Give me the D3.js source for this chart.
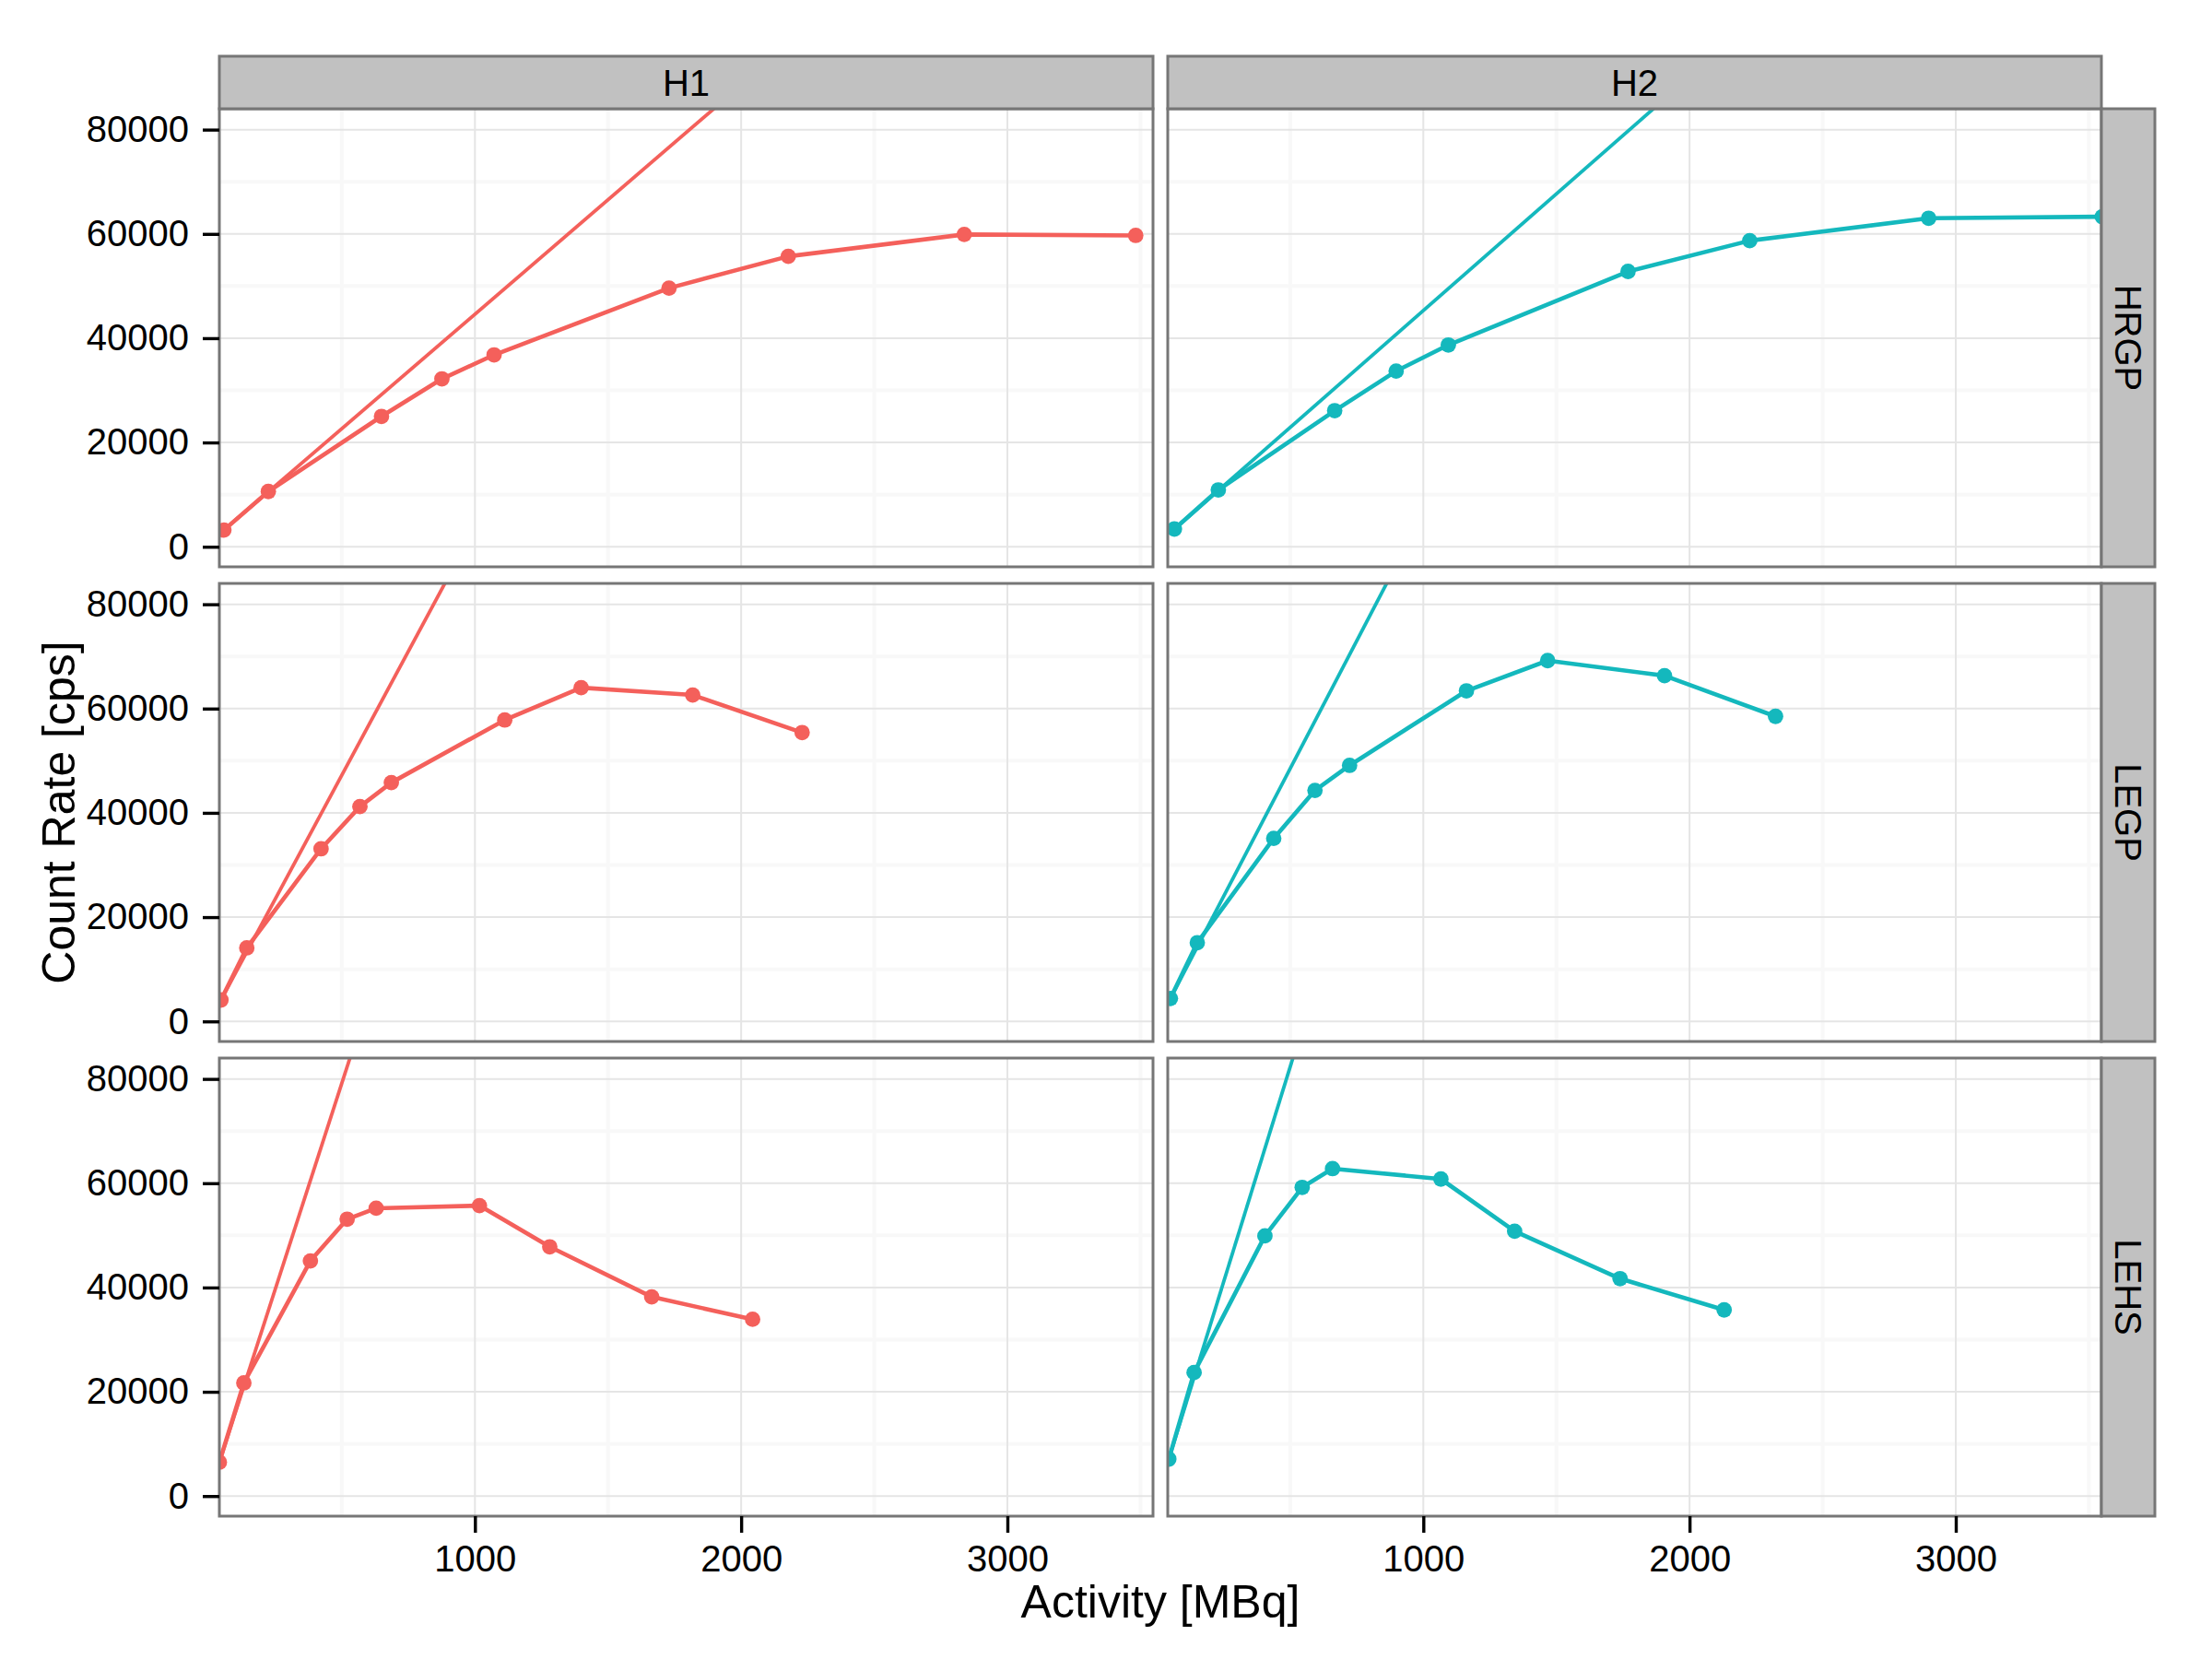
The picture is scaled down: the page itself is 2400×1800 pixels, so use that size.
<!DOCTYPE html>
<html><head><meta charset="utf-8">
<script src="https://cdn.jsdelivr.net/npm/d3@7"></script>
<style>body{margin:0;background:#fff}text{font-family:"Liberation Sans",Arial,Helvetica,sans-serif}</style>
</head><body>
<svg id="chart" width="2400" height="1800"></svg>
<script>
// ---- data ----
const columns = ["H1", "H2"];
const rows = ["HRGP", "LEGP", "LEHS"];
const xTicks = [1000, 2000, 3000];
const xMinorTicks = [500, 1500, 2500, 3500];
const yTicks = [0, 20000, 40000, 60000, 80000];
const yMinorTicks = [10000, 30000, 50000, 70000];
const xTitle = "Activity [MBq]";
const yTitle = "Count Rate [cps]";

const activityH1HRGP = [57, 224, 649, 876, 1072, 1729, 2177, 2838, 3482];
const rateH1HRGP     = [3200, 10600, 25000, 32200, 36800, 49600, 55700, 59900, 59700];
const activityH2HRGP = [65, 230, 667, 898, 1094, 1769, 2226, 2898, 3550];
const rateH2HRGP     = [3400, 10900, 26100, 33700, 38700, 52800, 58700, 63000, 63300];

const activityH1LEGP = [46, 143, 422, 568, 686, 1112, 1399, 1818, 2229];
const rateH1LEGP     = [4100, 14100, 33100, 41200, 45800, 57800, 64000, 62600, 55400];
const activityH2LEGP = [50, 151, 438, 593, 723, 1162, 1467, 1906, 2323];
const rateH2LEGP     = [4400, 15100, 35100, 44300, 49100, 63400, 69200, 66300, 58500];

const activityH1LEHS = [40, 132, 382, 520, 629, 1017, 1281, 1664, 2043];
const rateH1LEHS     = [6500, 21700, 45100, 53100, 55200, 55700, 47800, 38200, 33900];
const activityH2LEHS = [44, 139, 405, 545, 659, 1066, 1343, 1739, 2130];
const rateH2LEHS     = [7100, 23700, 49900, 59200, 62800, 60800, 50800, 41700, 35700];

// slope (cps per MBq) of the linear reference line through the first measurement, rows HRGP, LEGP, LEHS
const refSlopeH1 = [43.9, 95, 158];
const refSlopeH2 = [44.8, 98, 165];

const colors = {H1: "#F4605B", H2: "#14B8BD"};

// ---- layout ----
const W = 2400, H = 1800;
const colX = [238, 1267];
const rowY = [118, 633, 1148];
const panelW = 1013, panelH = 497;
const stripH = 57, stripW = 58;

const svg = d3.select("#chart");
svg.append("rect").attr("width", W).attr("height", H).attr("fill", "#fff");

const x = d3.scaleLinear().domain([40, 3547]).range([0, panelW]);
const y = d3.scaleLinear().domain([-3850, 84000]).range([panelH, 0]);

const panels = [
  {col: 0, row: 0, xs: activityH1HRGP, ys: rateH1HRGP, slope: refSlopeH1[0]},
  {col: 1, row: 0, xs: activityH2HRGP, ys: rateH2HRGP, slope: refSlopeH2[0]},
  {col: 0, row: 1, xs: activityH1LEGP, ys: rateH1LEGP, slope: refSlopeH1[1]},
  {col: 1, row: 1, xs: activityH2LEGP, ys: rateH2LEGP, slope: refSlopeH2[1]},
  {col: 0, row: 2, xs: activityH1LEHS, ys: rateH1LEHS, slope: refSlopeH1[2]},
  {col: 1, row: 2, xs: activityH2LEHS, ys: rateH2LEHS, slope: refSlopeH2[2]},
];

const border = "#767676";
const line = d3.line().x(d => x(d[0])).y(d => y(d[1]));

panels.forEach((p, i) => {
  const g = svg.append("g").attr("transform", `translate(${colX[p.col]},${rowY[p.row]})`);
  const color = colors[columns[p.col]];
  g.append("rect").attr("width", panelW).attr("height", panelH).attr("fill", "#fff");
  // minor grid
  g.selectAll(".mx").data(xMinorTicks).join("line")
    .attr("x1", d => x(d)).attr("x2", d => x(d)).attr("y1", 0).attr("y2", panelH)
    .attr("stroke", "#F8F8F8").attr("stroke-width", 4);
  g.selectAll(".my").data(yMinorTicks).join("line")
    .attr("y1", d => y(d)).attr("y2", d => y(d)).attr("x1", 0).attr("x2", panelW)
    .attr("stroke", "#F8F8F8").attr("stroke-width", 4);
  // major grid
  g.selectAll(".gx").data(xTicks).join("line")
    .attr("x1", d => x(d)).attr("x2", d => x(d)).attr("y1", 0).attr("y2", panelH)
    .attr("stroke", "#E5E5E5").attr("stroke-width", 2);
  g.selectAll(".gy").data(yTicks).join("line")
    .attr("y1", d => y(d)).attr("y2", d => y(d)).attr("x1", 0).attr("x2", panelW)
    .attr("stroke", "#E5E5E5").attr("stroke-width", 2);

  const clipId = "clip" + i;
  g.append("clipPath").attr("id", clipId).append("rect").attr("width", panelW).attr("height", panelH);
  const c = g.append("g").attr("clip-path", `url(#${clipId})`);

  const pts = p.xs.map((v, k) => [v, p.ys[k]]);
  // reference line
  const x0 = p.xs[0], y0 = p.ys[0];
  const yEnd = 95000;
  const ref = [[x0, y0], [x0 + (yEnd - y0) / p.slope, yEnd]];
  c.append("path").attr("d", line(ref)).attr("fill", "none")
    .attr("stroke", color).attr("stroke-width", 3.8);
  // data line
  c.append("path").attr("d", line(pts)).attr("fill", "none")
    .attr("stroke", color).attr("stroke-width", 4.6).attr("stroke-linejoin", "round");
  c.selectAll("circle").data(pts).join("circle")
    .attr("cx", d => x(d[0])).attr("cy", d => y(d[1])).attr("r", 8.4).attr("fill", color);

  g.append("rect").attr("x", 0).attr("y", 0).attr("width", panelW).attr("height", panelH)
    .attr("fill", "none").attr("stroke", border).attr("stroke-width", 3);

  // y axis on left column
  if (p.col === 0) {
    const ax = g.append("g").call(d3.axisLeft(y).tickValues(yTicks).tickSize(18).tickPadding(15).tickFormat(d3.format("d")));
    ax.select(".domain").remove();
    ax.selectAll(".tick line").attr("stroke", "#000").attr("stroke-width", 3.4);
    ax.selectAll(".tick text").attr("font-size", 40).attr("fill", "#000")
      .attr("font-family", '"Liberation Sans",Arial,Helvetica,sans-serif');
  }
  // x axis on bottom row
  if (p.row === rows.length - 1) {
    const ax = g.append("g").attr("transform", `translate(0,${panelH})`)
      .call(d3.axisBottom(x).tickValues(xTicks).tickSize(18).tickPadding(14).tickFormat(d3.format("d")));
    ax.select(".domain").remove();
    ax.selectAll(".tick line").attr("stroke", "#000").attr("stroke-width", 3.4);
    ax.selectAll(".tick text").attr("font-size", 40).attr("fill", "#000")
      .attr("font-family", '"Liberation Sans",Arial,Helvetica,sans-serif');
  }
});

// top strips
columns.forEach((name, ci) => {
  const g = svg.append("g").attr("transform", `translate(${colX[ci]},${rowY[0] - stripH})`);
  g.append("rect").attr("width", panelW).attr("height", stripH)
    .attr("fill", "#C1C1C1").attr("stroke", border).attr("stroke-width", 3);
  g.append("text").attr("x", panelW / 2).attr("y", stripH / 2).attr("dy", "0.35em")
    .attr("text-anchor", "middle").attr("font-size", 40).attr("fill", "#000").text(name);
});

// right strips
rows.forEach((name, ri) => {
  const sx = colX[1] + panelW;
  const g = svg.append("g").attr("transform", `translate(${sx},${rowY[ri]})`);
  g.append("rect").attr("width", stripW).attr("height", panelH)
    .attr("fill", "#C1C1C1").attr("stroke", border).attr("stroke-width", 3);
  g.append("text").attr("transform", `translate(${stripW / 2},${panelH / 2}) rotate(90)`)
    .attr("dy", "0.35em").attr("text-anchor", "middle").attr("font-size", 40).attr("fill", "#000").text(name);
});

// axis titles
svg.append("text").attr("x", (colX[0] + colX[1] + panelW) / 2).attr("y", 1755)
  .attr("text-anchor", "middle").attr("font-size", 50).attr("fill", "#000").text(xTitle);
svg.append("text").attr("transform", `translate(81,${(rowY[0] + rowY[2] + panelH) / 2}) rotate(-90)`)
  .attr("text-anchor", "middle").attr("font-size", 50).attr("fill", "#000").text(yTitle);
</script>
</body></html>
